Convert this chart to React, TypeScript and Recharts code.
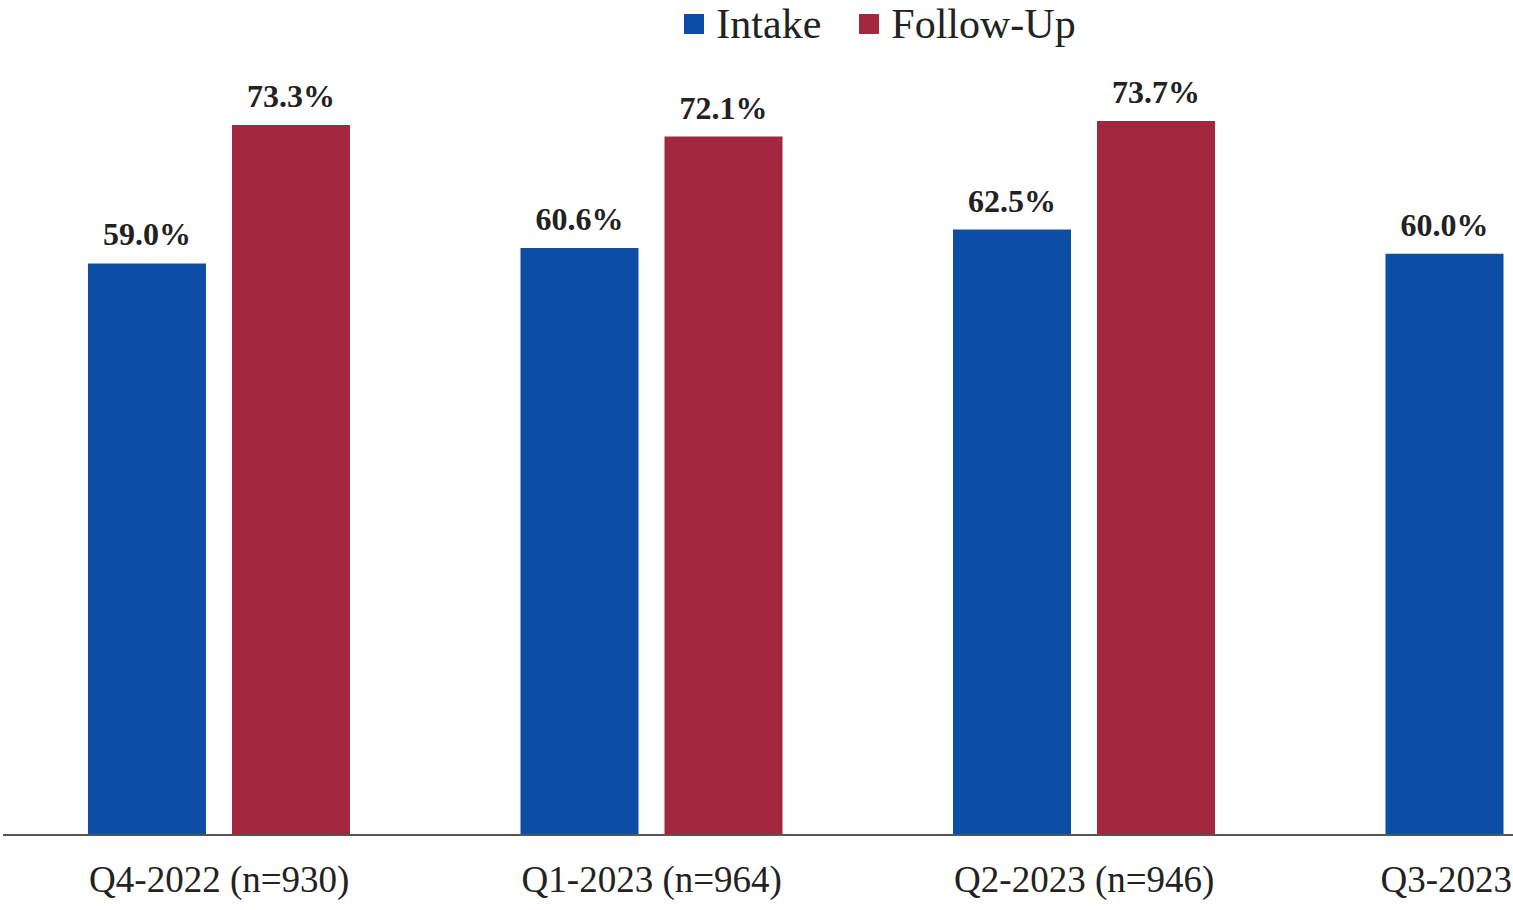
import { BarChart, Bar, XAxis, YAxis, Legend, LabelList } from "recharts";

const QUARTERS = ["Q4-2022 (n=930)", "Q1-2023 (n=964)", "Q2-2023 (n=946)", "Q3-2023"];
const INTAKE = [59.0, 60.6, 62.5, 60.0];
const FOLLOW_UP: (number | null)[] = [73.3, 72.1, 73.7, null];

const BLUE = "#0c4ea6";
const RED = "#a3283f";
const SERIF = '"Times New Roman", "Liberation Serif", serif';
const VIEW_W = 1513;

const data = QUARTERS.map((quarter, i) => ({
  quarter,
  intake: INTAKE[i],
  followUp: FOLLOW_UP[i],
}));

const pct = (v: unknown) => (typeof v === "number" ? `${v.toFixed(1)}%` : "");

// tick that stays inside the visible window (last category sits on the edge)
function QuarterTick(props: any) {
  const { x, y, payload } = props;
  const label = String(payload.value);
  const approxHalf = label.length * 37 * 0.26;
  const overflow = x + approxHalf > VIEW_W;
  return (
    <text
      x={overflow ? VIEW_W - 1 : x}
      y={y}
      dy="0.71em"
      textAnchor={overflow ? "end" : "middle"}
      fill="#222"
      fontSize={37}
      fontFamily={SERIF}
    >
      {label}
    </text>
  );
}

function LegendRow() {
  const items = [
    { label: "Intake", color: BLUE },
    { label: "Follow-Up", color: RED },
  ];
  return (
    <div
      style={{
        display: "flex",
        justifyContent: "center",
        alignItems: "center",
        height: 60,
        paddingLeft: 24,
        boxSizing: "border-box",
        fontFamily: SERIF,
        fontSize: 42,
        lineHeight: "48px",
        color: "#222",
      }}
    >
      {items.map((it, i) => (
        <div
          key={it.label}
          style={{ display: "flex", alignItems: "center", height: 48, alignSelf: "flex-start", marginLeft: i ? 38 : 0 }}
        >
          <span style={{ width: 20, height: 20, background: it.color, marginRight: 12 }} />
          <span>{it.label}</span>
        </div>
      ))}
    </div>
  );
}

export default function App() {
  return (
    <div
      style={{
        position: "absolute",
        left: 0,
        top: 0,
        width: VIEW_W,
        height: 910,
        overflow: "hidden",
        background: "#fff",
      }}
    >
      <BarChart
        width={1736}
        height={910}
        data={data}
        margin={{ top: 0, right: 3, bottom: 0, left: 3 }}
        barGap={26}
        barSize={118}
      >
        <Legend verticalAlign="top" content={() => <LegendRow />} />
        <XAxis
          dataKey="quarter"
          height={75}
          tickLine={false}
          tickMargin={25}
          axisLine={{ stroke: "#555", strokeWidth: 2 }}
          tick={<QuarterTick />}
          interval={0}
        />
        <YAxis hide domain={[0, 80]} />
        <Bar dataKey="intake" name="Intake" fill={BLUE} isAnimationActive={false}>
          <LabelList
            dataKey="intake"
            position="top"
            offset={18}
            formatter={pct}
            style={{ fill: "#222", fontSize: 32, fontWeight: "bold", fontFamily: SERIF }}
          />
        </Bar>
        <Bar dataKey="followUp" name="Follow-Up" fill={RED} isAnimationActive={false}>
          <LabelList
            dataKey="followUp"
            position="top"
            offset={18}
            formatter={pct}
            style={{ fill: "#222", fontSize: 32, fontWeight: "bold", fontFamily: SERIF }}
          />
        </Bar>
      </BarChart>
    </div>
  );
}
